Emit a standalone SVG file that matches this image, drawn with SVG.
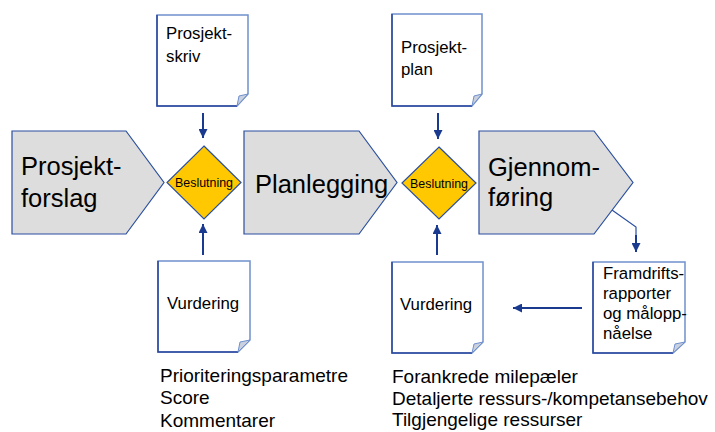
<svg xmlns="http://www.w3.org/2000/svg" width="715" height="432" viewBox="0 0 715 432">
<style>
text{font-family:"Liberation Sans",Arial,sans-serif;fill:#000}
.pent{fill:#dddddd;stroke:#2b4fa0;stroke-width:1.2}
.dia{fill:#ffc800;stroke:#2b4fa0;stroke-width:1.2}
.doc{fill:#fff;stroke:#7090cc;stroke-width:1.5}
.docd{fill:none;stroke:#2a479c;stroke-width:1.5}
.fold{fill:#c9d0de;stroke:#7090cc;stroke-width:1}
.big{font-size:25.5px}
.bes{font-size:12.4px}
.dt{font-size:16.8px}
.note{font-size:19px}
.con{fill:none;stroke:#1a3a8f;stroke-width:2}
.con2{fill:none;stroke:#2b4fa0;stroke-width:1.2}
</style>
<defs>
<marker id="ah" markerUnits="userSpaceOnUse" viewBox="0 0 10 10" markerWidth="10" markerHeight="9" refX="10" refY="5" orient="auto">
<path d="M0,0 L10,5 L0,10 z" fill="#1a3a8f"/>
</marker>
</defs>

<g id="connectors">
<line class="con" x1="203" y1="113" x2="203" y2="138" marker-end="url(#ah)"/>
<line class="con" x1="203" y1="255" x2="203" y2="224" marker-end="url(#ah)"/>
<line class="con" x1="438" y1="113" x2="438" y2="139" marker-end="url(#ah)"/>
<line class="con" x1="437" y1="255" x2="437" y2="225" marker-end="url(#ah)"/>
<polyline class="con2" points="612,210 636,227 636,236"/>
<line class="con" x1="636" y1="235" x2="636" y2="252" marker-end="url(#ah)"/>
<line class="con" x1="582" y1="308" x2="513" y2="308" marker-end="url(#ah)"/>
</g>

<g id="prosjektforslag">
<polygon class="pent" points="12,131 126,131 164,182.5 126,234 12,234"/>
<text class="big" x="21" y="175">Prosjekt-</text>
<text class="big" x="21" y="207">forslag</text>
</g>

<g id="beslutning1">
<polygon class="dia" points="204,146 241,182.5 204,219 167,182.5"/>
<text class="bes" x="204" y="187" text-anchor="middle">Beslutning</text>
</g>

<g id="planlegging">
<polygon class="pent" points="244,131 359,131 397,182.5 359,234 244,234"/>
<text class="big" x="255" y="193">Planlegging</text>
</g>

<g id="beslutning2">
<polygon class="dia" points="439,147 476,183 439,219 402,183"/>
<text class="bes" x="439" y="188" text-anchor="middle">Beslutning</text>
</g>

<g id="gjennomforing">
<polygon class="pent" points="479,131 594,131 633,182.5 594,234 479,234"/>
<text class="big" x="488" y="176">Gjennom-</text>
<text class="big" x="488" y="206">føring</text>
</g>

<g id="prosjektskriv">
<polygon class="doc" points="157,15 248,15 248,94 237,106 157,106"/>
<polyline class="docd" points="157,15 157,106 237,106"/>
<polygon class="fold" points="237,106 239,96 248,94"/>
<text class="dt" x="166" y="39">Prosjekt-</text>
<text class="dt" x="166" y="62">skriv</text>
</g>

<g id="prosjektplan">
<polygon class="doc" points="392,14 482,14 482,94 472,106 392,106"/>
<polyline class="docd" points="392,14 392,106 472,106"/>
<polygon class="fold" points="472,106 474,96 482,94"/>
<text class="dt" x="401" y="53">Prosjekt-</text>
<text class="dt" x="401" y="75">plan</text>
</g>

<g id="vurdering1">
<polygon class="doc" points="158,261 250,261 250,340 238,352 158,352"/>
<polyline class="docd" points="158,261 158,352 238,352"/>
<polygon class="fold" points="238,352 240,342 250,340"/>
<text class="dt" x="167" y="309">Vurdering</text>
</g>

<g id="vurdering2">
<polygon class="doc" points="392,262 483,262 483,342 472,353 392,353"/>
<polyline class="docd" points="392,262 392,353 472,353"/>
<polygon class="fold" points="472,353 474,344 483,342"/>
<text class="dt" x="400" y="310">Vurdering</text>
</g>

<g id="framdrift">
<polygon class="doc" points="593,262 685,262 685,342 673,353 593,353"/>
<polyline class="docd" points="593,262 593,353 673,353"/>
<polygon class="fold" points="673,353 675,344 685,342"/>
<text class="dt" x="603" y="279">Framdrifts-</text>
<text class="dt" x="603" y="299">rapporter</text>
<text class="dt" x="603" y="319">og målopp-</text>
<text class="dt" x="603" y="339">nåelse</text>
</g>

<g id="notes1">
<text class="note" x="160" y="382">Prioriteringsparametre</text>
<text class="note" x="160" y="404">Score</text>
<text class="note" x="160" y="427">Kommentarer</text>
</g>

<g id="notes2">
<text class="note" x="392" y="383">Forankrede milepæler</text>
<text class="note" x="392" y="405">Detaljerte ressurs-/kompetansebehov</text>
<text class="note" x="392" y="426">Tilgjengelige ressurser</text>
</g>
</svg>
